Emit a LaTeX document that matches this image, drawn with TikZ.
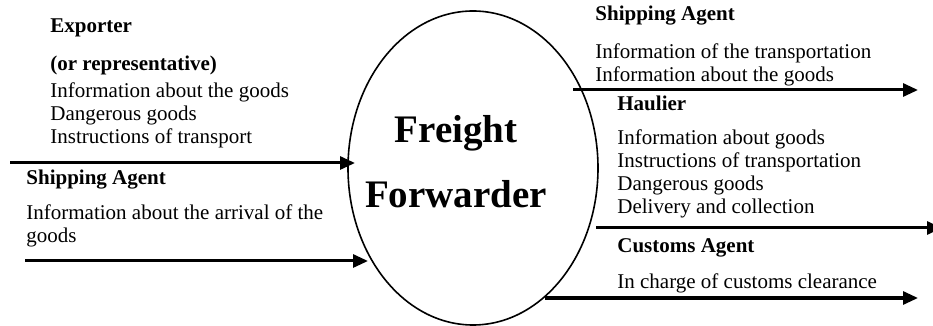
\documentclass[tikz,border=0pt]{standalone}
\usepackage{fontspec}
\setmainfont{Liberation Serif}
\usetikzlibrary{shapes.geometric,arrows.meta}
\tikzset{
  flow/.style={line width=1.5pt, -{Triangle[length=7.5pt,width=6.5pt]}},
  partyhead/.style={anchor=west, inner sep=0pt, font=\fontsize{10.5}{11.5}\selectfont\bfseries},
  partyinfo/.style={anchor=north west, inner sep=0pt, align=left, font=\fontsize{10.5}{11.5}\selectfont},
}

\begin{document}
\begin{tikzpicture}[x=0.5pt,y=-0.5pt]
  \useasboundingbox (0,0) rectangle (933,326);
  % the forwarder in the middle
  \node[draw, ellipse, line width=0.8pt, minimum width=125pt, minimum height=157pt, inner sep=0pt] (fwd) at (473,168) {};
  \node[font=\fontsize{19.5}{32.5}\selectfont\bfseries, align=center, inner sep=0pt] (fwdname) at (456,162) {Freight\\Forwarder};

  % incoming side
  \node[partyhead] (exp) at (50,28) {Exporter};
  \node[partyhead] (exprep) at (50,65) {(or representative)};
  \node[partyinfo] (expinfo) at (50,82) {Information about the goods\\Dangerous goods\\Instructions of transport};
  \coordinate (expsrc) at (10,163);
  \coordinate (exptip) at (355,163);
  \draw[flow] (expsrc) -- (exptip);

  \node[partyhead] (shipin) at (26,180) {Shipping Agent};
  \node[partyinfo] (shipininfo) at (26,204) {Information about the arrival of the\\goods};
  \coordinate (shipinsrc) at (25,261);
  \coordinate (shipintip) at (368,261);
  \draw[flow] (shipinsrc) -- (shipintip);

  % outgoing side
  \node[partyhead] (shipout) at (595,16) {Shipping Agent};
  \node[partyinfo] (shipoutinfo) at (595,43) {Information of the transportation\\Information about the goods};
  \coordinate (shipoutsrc) at (573,90);
  \coordinate (shipouttip) at (918,90);
  \draw[flow] (shipoutsrc) -- (shipouttip);

  \node[partyhead] (haul) at (617,103) {Haulier};
  \node[partyinfo] (haulinfo) at (617,129) {Information about goods\\Instructions of transportation\\Dangerous goods\\Delivery and collection};
  \coordinate (haulsrc) at (596,228);
  \coordinate (haultip) at (942,228);
  \draw[flow] (haulsrc) -- (haultip);

  \node[partyhead] (cust) at (617,248) {Customs Agent};
  \node[partyinfo] (custinfo) at (617,273) {In charge of customs clearance};
  \coordinate (custsrc) at (545,298);
  \coordinate (custtip) at (918,298);
  \draw[flow] (custsrc) -- (custtip);
\end{tikzpicture}
\end{document}
